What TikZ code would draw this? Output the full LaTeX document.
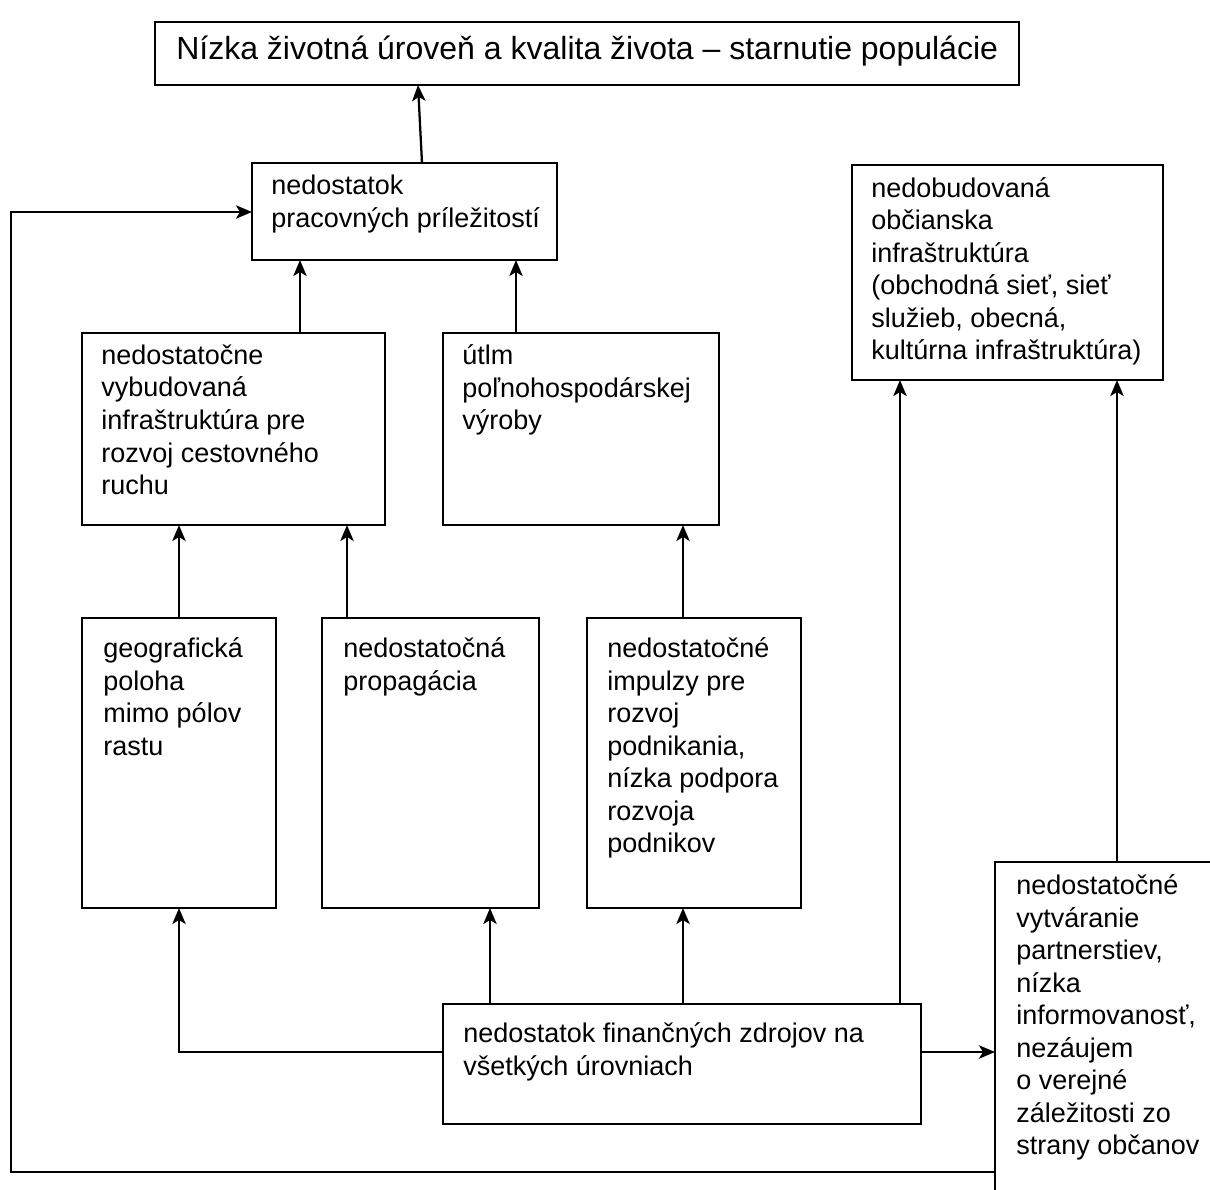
\documentclass[tikz,border=0pt]{standalone}
\usepackage{fontspec}
\setmainfont{Liberation Sans}
\usetikzlibrary{arrows.meta,calc}
\newcommand\mkbox[5]{\node[box,minimum width={(#4-#2)*0.75pt},minimum height={(#5-#3)*0.75pt}] (#1) at (#2,#3) {};}
\begin{document}
\begin{tikzpicture}[x=0.75pt,y=-0.75pt,
  box/.style={draw,line width=1.7pt,inner sep=0pt,outer sep=0pt,anchor=north west},
  lbl/.style={anchor=north west,inner sep=0pt,align=left,font=\fontsize{20.25}{24.4}\selectfont,execute at begin node={\strut}},
  conn/.style={line width=1.7pt,-{Stealth[length=12pt,width=10pt,inset=3pt]}},
  ln/.style={line width=1.7pt}]
\useasboundingbox (0,0) rectangle (1210,1189);
% boxes
\mkbox{top}{155}{22}{1019}{85}
\mkbox{ned}{252}{163}{557}{260}
\mkbox{infra}{82}{333}{385}{525}
\mkbox{utlm}{443}{333}{719}{525}
\mkbox{obc}{852}{165}{1163}{380}
\mkbox{geo}{82}{618}{276}{908}
\mkbox{prop}{322}{618}{539}{908}
\mkbox{imp}{587}{618}{801}{908}
\mkbox{fin}{443}{1004}{921}{1124}
\mkbox{part}{995}{862}{1225}{1215}
% texts
\node[anchor=base west,inner sep=0pt,font=\fontsize{24}{28}\selectfont] (ttop) at (176,59) {Nízka životná úroveň a kvalita života – starnutie populácie};
\node[lbl] (tned) at (271,175) {nedostatok\\pracovných príležitostí};
\node[lbl] (tinfra) at (101,344.5) {nedostatočne\\vybudovaná\\infraštruktúra pre\\rozvoj cestovného\\ruchu};
\node[lbl] (tutlm) at (462,344.5) {útlm\\poľnohospodárskej\\výroby};
\node[lbl] (tobc) at (871,177) {nedobudovaná\\občianska\\infraštruktúra\\(obchodná sieť, sieť\\služieb, obecná,\\kultúrna infraštruktúra)};
\node[lbl] (tgeo) at (103,637.5) {geografická\\poloha\\mimo pólov\\rastu};
\node[lbl] (tprop) at (343,637.5) {nedostatočná\\propagácia};
\node[lbl] (timp) at (607,637.5) {nedostatočné\\impulzy pre\\rozvoj\\podnikania,\\nízka podpora\\rozvoja\\podnikov};
\node[lbl] (tfin) at (463,1022.5) {nedostatok finančných zdrojov na\\všetkých úrovniach};
\node[lbl] (tpart) at (1016,874.5) {nedostatočné\\vytváranie\\partnerstiev,\\nízka\\informovanosť,\\nezáujem\\o verejné\\záležitosti zo\\strany občanov};
% connectors
\draw[conn] (ned.north -| 422,0) -- (top.south -| 418,0);
\draw[conn] (infra.north -| 300,0) -- (ned.south -| 300,0);
\draw[conn] (utlm.north -| 516,0) -- (ned.south -| 516,0);
\draw[conn] (geo.north -| 179,0) -- (infra.south -| 179,0);
\draw[conn] (prop.north -| 347,0) -- (infra.south -| 347,0);
\draw[conn] (imp.north -| 683,0) -- (utlm.south -| 683,0);
\draw[conn] (fin.north -| 490,0) -- (prop.south -| 490,0);
\draw[conn] (fin.north -| 683,0) -- (imp.south -| 683,0);
\draw[conn] (fin.west |- 0,1052) -| (geo.south -| 179,0);
\draw[conn] (fin.north -| 900,0) -- (obc.south -| 900,0);
\draw[conn] (fin.east |- 0,1052) -- (part.west |- 0,1052);
\draw[conn] (part.north -| 1117,0) -- (obc.south -| 1117,0);
\coordinate (fb) at (11,1172);
\draw[conn] (part.west |- fb) -- (fb) |- (ned.west |- 0,212);
\end{tikzpicture}
\end{document}
